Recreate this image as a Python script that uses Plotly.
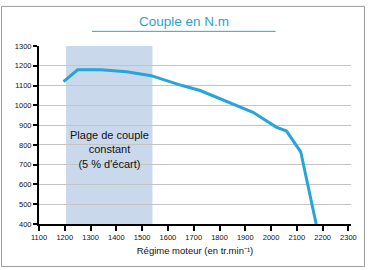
import plotly.graph_objects as go

rpm = [1195, 1250, 1340, 1440, 1535, 1655, 1725, 1825, 1930, 2020, 2060, 2115, 2175]
torque = [1120, 1180, 1180, 1170, 1150, 1100, 1075, 1020, 965, 890, 870, 765, 400]
band = [1205, 1540]
title_text = "Couple en N.m"
x_title = "Régime moteur (en tr.min⁻¹)"
band_text = "Plage de couple<br>constant<br>(5 % d'écart)"

FONT = "Liberation Sans, Arial, sans-serif"
TEAL = "#2aa3cc"

fig = go.Figure()
fig.add_trace(go.Scatter(x=rpm, y=torque, mode="lines",
                         line=dict(color="#27a4d8", width=3), hoverinfo="skip",
                         cliponaxis=True))

fig.add_shape(type="rect", xref="x", yref="y", x0=band[0], x1=band[1], y0=400, y1=1300,
              fillcolor="#c9d9eb", line=dict(width=0), layer="below")

# outer border
fig.add_shape(type="rect", xref="paper", yref="paper",
              x0=(1.5 - 39) / 312.5, x1=(365 - 39) / 312.5,
              y0=(224 - 267.5) / 182, y1=(224 - 1.5) / 182,
              line=dict(color="#9a9a9a", width=1), fillcolor="rgba(0,0,0,0)", layer="below")
# title underline
fig.add_shape(type="line", xref="paper", yref="paper",
              x0=(92 - 39) / 312.5, x1=(276 - 39) / 312.5,
              y0=(224 - 27) / 182, y1=(224 - 27) / 182,
              line=dict(color=TEAL, width=1))

fig.add_annotation(xref="paper", yref="paper", x=(184 - 39) / 312.5, y=(224 - 17) / 182,
                   text=title_text, showarrow=False,
                   font=dict(family=FONT, size=13.5, color=TEAL), xanchor="center", yanchor="middle")
fig.add_annotation(xref="x", yref="y", x=sum(band) / 2, y=775,
                   text=band_text, showarrow=False, align="center",
                   font=dict(family=FONT, size=11, color="#111"), yanchor="middle")

fig.update_layout(
    width=368, height=270,
    margin=dict(l=39, r=16.5, t=46, b=46),
    paper_bgcolor="white", plot_bgcolor="white",
    showlegend=False,
    font=dict(family=FONT, color="#111"),
    xaxis=dict(range=[1100, 2310], dtick=100, tick0=1100, showgrid=False,
               showline=True, linecolor="black", linewidth=2,
               ticks="outside", ticklen=5, tickwidth=1.5, tickcolor="black",
               tickfont=dict(size=7.5, family=FONT, color="#111"),
               title=dict(text=x_title, font=dict(size=9.5, family=FONT, color="#111"), standoff=6),
               zeroline=False),
    yaxis=dict(range=[400, 1300], dtick=100, showgrid=True, gridcolor="#c4c4c4", gridwidth=1,
               showline=True, linecolor="black", linewidth=2,
               ticks="outside", ticklen=4, tickwidth=1.5, tickcolor="black",
               tickfont=dict(size=7.5, family=FONT, color="#111"),
               zeroline=False),
)

fig.write_html("out.html")
